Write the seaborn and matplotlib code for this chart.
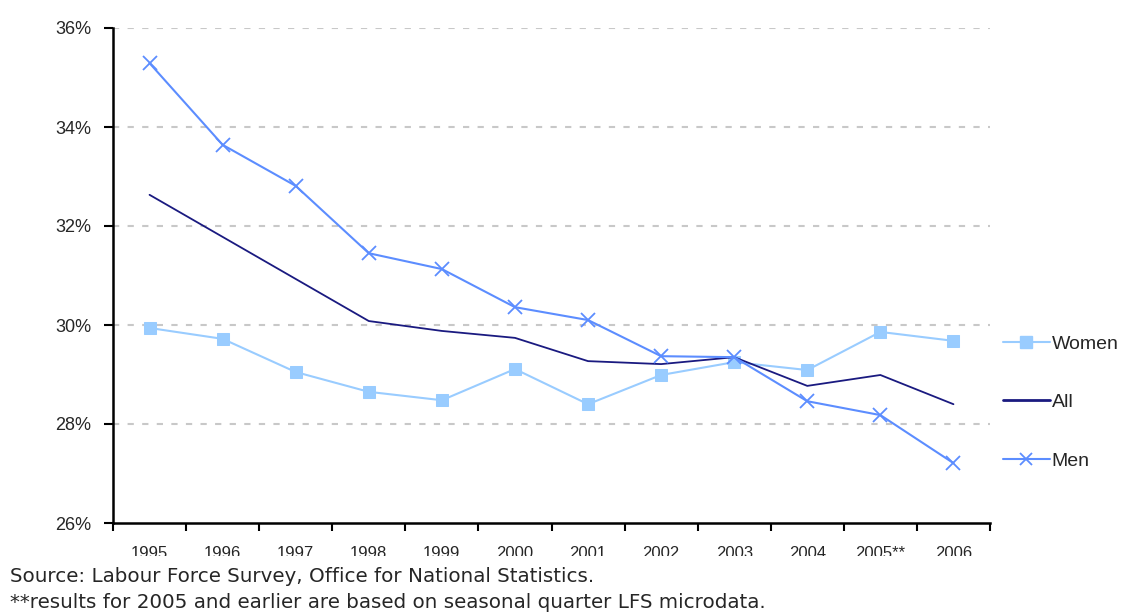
import matplotlib
matplotlib.use("Agg")
import matplotlib.pyplot as plt
import seaborn as sns
import numpy as np
from matplotlib.lines import Line2D
from matplotlib.ticker import FixedLocator, FuncFormatter
from matplotlib.transforms import Bbox

years = ["1995", "1996", "1997", "1998", "1999", "2000", "2001", "2002", "2003", "2004", "2005**", "2006"]
women = [29.94, 29.72, 29.05, 28.65, 28.48, 29.11, 28.40, 28.99, 29.25, 29.09, 29.86, 29.68]
all_ = [32.63, 31.78, 30.93, 30.08, 29.88, 29.74, 29.27, 29.21, 29.35, 28.77, 28.99, 28.40]
men = [35.29, 33.64, 32.81, 31.45, 31.13, 30.36, 30.10, 29.37, 29.35, 28.46, 28.18, 27.21]
y_ticks = [26, 28, 30, 32, 34, 36]
source_lines = ["Source: Labour Force Survey, Office for National Statistics.",
                "**results for 2005 and earlier are based on seasonal quarter LFS microdata."]

sns.set_style("white")
plt.rcParams['font.family'] = ['Liberation Sans', 'DejaVu Sans']

c_women = "#99CCFF"
c_all = "#1A1A80"
c_men = "#5C8DFF"

W, H = 1123, 613
fig = plt.figure(figsize=(W / 100, H / 100), dpi=100)
ax = fig.add_axes([113/W, 1-523/H, (990-113)/W, (523-28)/H])

pos = np.arange(len(years))
sns.lineplot(x=pos, y=women, ax=ax, color=c_women, lw=1.5, marker='s', markersize=8,
             markeredgecolor=c_women, markerfacecolor=c_women, zorder=3)
sns.lineplot(x=pos, y=all_, ax=ax, color=c_all, lw=1.3, zorder=3)
sns.lineplot(x=pos, y=men, ax=ax, color=c_men, lw=1.5, marker='x', markersize=10,
             markeredgewidth=1.3, markeredgecolor=c_men, zorder=4)

ax.set_xlim(-0.5, len(years) - 0.5)
ax.set_ylim(26, 36)
ax.yaxis.set_major_locator(FixedLocator(y_ticks))
ax.yaxis.set_major_formatter(FuncFormatter(lambda v, p: f"{int(round(v))}%"))
ax.set_xticks(np.arange(-0.5, len(years), 1.0))
ax.set_xticklabels([])
ax.tick_params(axis='x', which='major', direction='out', length=6, width=1.5, color='black', bottom=True)
ax.tick_params(axis='y', which='major', direction='out', length=6.5, width=1.5, color='black', left=True,
               labelsize=13, pad=9)

clip = Bbox.from_extents(0, H - 556, W, H - 530)
for i, lab in enumerate(years):
    t = ax.text(i, -0.062, lab, transform=ax.get_xaxis_transform(), ha='center', va='center', fontsize=12)
    t.set_clip_box(clip)
    t.set_clip_on(True)

for v in y_ticks[1:]:
    ax.axhline(v, color='#C8C8C8', lw=1.5, ls=(0, (3, 4)), zorder=1)

for s in ['top', 'right']:
    ax.spines[s].set_visible(False)
for s in ['left', 'bottom']:
    ax.spines[s].set_color('black')
    ax.spines[s].set_linewidth(1.8)
ax.set_xlabel("")
ax.set_ylabel("")

handles = [Line2D([], [], color=c_women, lw=1.5, marker='s', markersize=8),
           Line2D([], [], color=c_all, lw=2),
           Line2D([], [], color=c_men, lw=1.5, marker='x', markersize=9, markeredgewidth=1.3)]
fig.legend(handles, ["Women", "All", "Men"], loc='upper left', bbox_to_anchor=(1003/W, 1-335/H),
           frameon=False, fontsize=14, labelspacing=2.1, handlelength=2.4, handletextpad=0.1,
           borderaxespad=0, borderpad=0)

fig.text(10/W, 1-577/H, source_lines[0], fontsize=14.3, va='center', ha='left', family='DejaVu Sans')
fig.text(10/W, 1-603/H, source_lines[1], fontsize=14.3, va='center', ha='left', family='DejaVu Sans')

fig.savefig("out.png", dpi=100)
